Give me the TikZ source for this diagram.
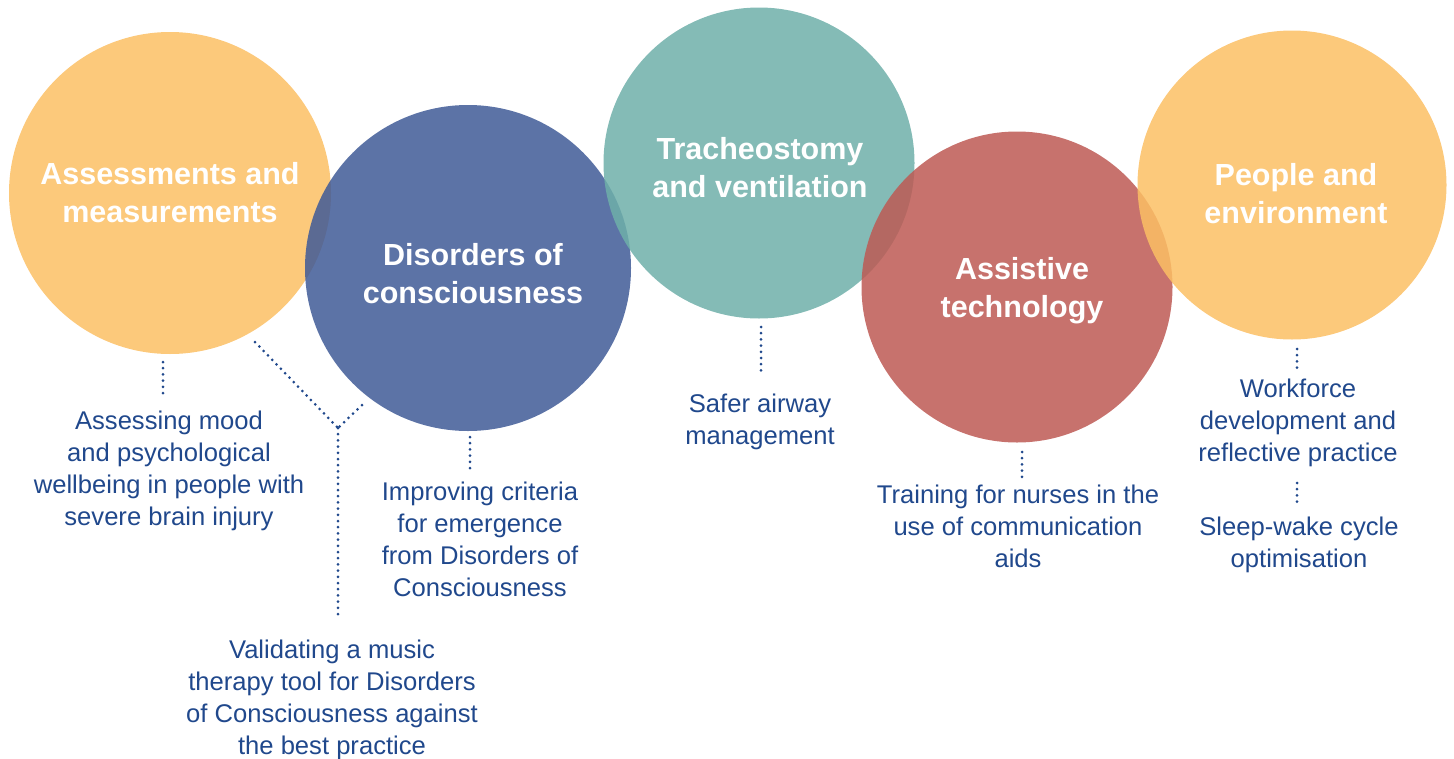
\documentclass[tikz,border=0pt]{standalone}
\usepackage{fontspec}
\setmainfont{Liberation Sans}
\definecolor{corange}{RGB}{251,191,100}
\definecolor{cblue}{RGB}{63,90,151}
\definecolor{cteal}{RGB}{110,175,169}
\definecolor{cred}{RGB}{189,89,83}
\definecolor{ctext}{RGB}{32,72,140}
\tikzset{
  bubble/.style={circle, fill opacity=0.85, draw=none, inner sep=0pt},
  ctitle/.style={text=white, font=\bfseries\fontsize{30.5}{38}\selectfont, align=center, inner sep=0pt},
  lbl/.style={text=ctext, font=\fontsize{25.6}{32}\selectfont, align=center, inner sep=0pt},
  dots/.style={draw=ctext, line width=3pt, line cap=round, dash pattern=on 0pt off 6.2pt}
}
\begin{document}
\begin{tikzpicture}[x=1pt,y=-1pt]
\useasboundingbox (0,0) rectangle (1454,758);
% circles
\node[bubble, fill=corange, minimum size=322pt] (c1) at (170,193) {};
\node[bubble, fill=cblue, minimum size=326pt] (c2) at (468,268) {};
\node[bubble, fill=cteal, minimum size=311pt] (c3) at (759,163) {};
\node[bubble, fill=cred, minimum size=311pt] (c4) at (1017,287) {};
\node[bubble, fill=corange, minimum size=309pt] (c5) at (1292,185) {};
% titles
\node[ctitle] (t1) at (170,193) {Assessments and\\measurements};
\node[ctitle] (t2) at (473,274) {Disorders of\\consciousness};
\node[ctitle] (t3) at (760,168) {Tracheostomy\\and ventilation};
\node[ctitle] (t4) at (1022,291) {Assistive\\technology};
\node[ctitle] (t5) at (1296,194) {People and\\environment};
% labels
\node[lbl, anchor=north] (l1) at (169,411) {Assessing mood\\and psychological\\wellbeing in people with\\severe brain injury};
\node[lbl, anchor=north] (l2) at (480,482) {Improving criteria\\for emergence\\from Disorders of\\Consciousness};
\node[lbl, anchor=north] (l3) at (332,640) {Validating a music\\therapy tool for Disorders\\of Consciousness against\\the best practice};
\node[lbl, anchor=north] (l4) at (760,394) {Safer airway\\management};
\node[lbl, anchor=north] (l5) at (1018,485) {Training for nurses in the\\use of communication\\aids};
\node[lbl, anchor=north] (l6) at (1298,379) {Workforce\\development and\\reflective practice};
\node[lbl, anchor=north] (l7) at (1299,517) {Sleep-wake cycle\\optimisation};
% connector points
\coordinate (a1) at (163,362);
\coordinate (a2) at (163,395);
\coordinate (b1) at (470,437);
\coordinate (b2) at (470,470);
\coordinate (y1) at (255,342);
\coordinate (y2) at (362,405);
\coordinate (yj) at (338,428);
\coordinate (y3) at (338,620);
\coordinate (d1) at (761,327);
\coordinate (d2) at (761,373);
\coordinate (e1) at (1022,452);
\coordinate (e2) at (1022,477);
\coordinate (f1) at (1297,349);
\coordinate (f2) at (1297,370);
\coordinate (g1) at (1297,483);
\coordinate (g2) at (1297,503);
\draw[dots] (a1) -- (a2);
\draw[dots] (b1) -- (b2);
\draw[dots] (y1) -- (yj);
\draw[dots] (y2) -- (yj);
\draw[dots] (yj) -- (y3);
\draw[dots] (d1) -- (d2);
\draw[dots] (e1) -- (e2);
\draw[dots] (f1) -- (f2);
\draw[dots] (g1) -- (g2);
\end{tikzpicture}
\end{document}
